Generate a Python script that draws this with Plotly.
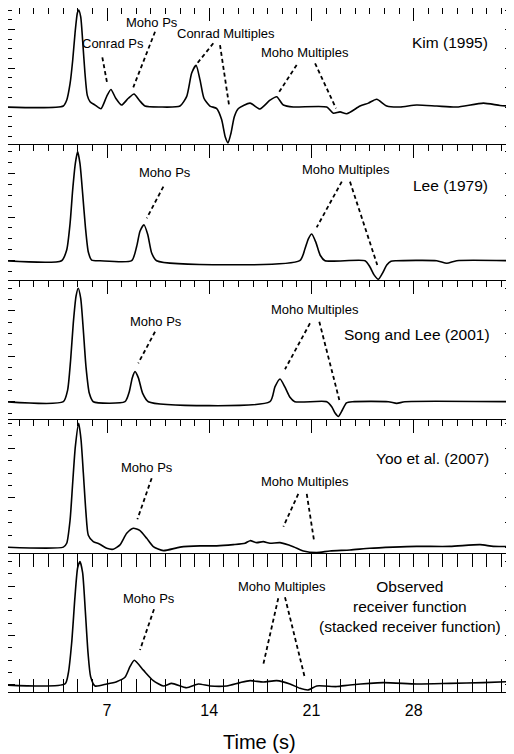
import plotly.graph_objects as go

# ---------------- data (time in s, normalized amplitude) ----------------
kim_1995 = [
    (0, 0), (4.01, 0.01), (4.24, 0.07), (4.47, 0.24), (4.65, 0.48), (4.81, 0.76),
    (4.97, 0.97), (5.06, 1.0), (5.2, 0.93), (5.33, 0.69), (5.49, 0.35), (5.65, 0.12),
    (5.84, 0.055), (6.18, 0.02), (6.59, -0.017), (6.98, 0.11), (7.27, 0.18), (7.6, 0.09),
    (8.0, 0.02), (8.46, 0.09), (8.85, 0.134), (9.21, 0.07), (9.6, 0.01), (10.63, 0),
    (12.0, 0.01), (12.46, 0.11), (12.8, 0.35), (13.1, 0.43), (13.37, 0.28), (13.64, 0.09),
    (14.05, 0.01), (14.5, -0.015), (14.85, -0.13), (15.1, -0.31), (15.29, -0.37),
    (15.49, -0.27), (15.72, -0.10), (16.0, -0.015), (16.8, 0.04), (17.47, -0.02),
    (18.16, 0.07), (18.62, 0.106), (19.08, 0.02), (19.76, 0), (22.05, 0), (22.5, -0.065),
    (22.96, -0.05), (23.42, -0.07), (24.33, 0.01), (24.9, 0.04), (25.47, 0.08),
    (26.16, 0.01), (27.07, 0), (28.2, 0.02), (29.58, 0.01), (30.95, 0), (32.78, 0.04),
    (33.92, 0.015), (34.6, 0.01),
]
lee_1979 = [
    (0, 0), (3.89, 0), (4.24, 0.098), (4.47, 0.34), (4.65, 0.65), (4.83, 0.89), (4.99, 1.0),
    (5.15, 0.89), (5.33, 0.62), (5.52, 0.31), (5.72, 0.08), (5.95, 0.006), (6.52, 0),
    (8.69, 0), (9.03, 0.13), (9.26, 0.27), (9.53, 0.33), (9.79, 0.24), (10.06, 0.07),
    (10.4, 0), (20.2, 0), (20.56, 0.11), (20.79, 0.2), (21.02, 0.245), (21.3, 0.17),
    (21.6, 0.05), (21.93, 0), (24.67, 0), (25.0, -0.055), (25.29, -0.13), (25.58, -0.17),
    (25.86, -0.116), (26.16, -0.04), (26.45, -0.005), (26.8, 0), (29.58, 0),
    (30.27, -0.024), (30.95, 0), (34.6, 0),
]
song_lee_2001 = [
    (0, 0), (4.01, 0), (4.3, 0.10), (4.51, 0.37), (4.69, 0.69), (4.88, 0.93), (5.03, 1.0),
    (5.2, 0.91), (5.38, 0.63), (5.56, 0.31), (5.79, 0.074), (6.06, 0), (8.23, 0),
    (8.53, 0.09), (8.73, 0.21), (8.92, 0.265), (9.15, 0.21), (9.44, 0.074), (9.83, 0),
    (18.16, 0), (18.5, 0.13), (18.85, 0.2), (19.18, 0.13), (19.53, 0.039), (19.86, 0),
    (22.05, 0), (22.39, -0.044), (22.62, -0.10), (22.84, -0.13), (23.12, -0.073),
    (23.4, -0.01), (23.8, 0), (26.27, 0), (26.84, -0.015), (27.4, 0), (34.6, 0),
]
yoo_2007 = [
    (0, 0.004), (4.01, 0.004), (4.24, 0.035), (4.47, 0.22), (4.65, 0.52), (4.83, 0.81),
    (5.06, 1.0), (5.22, 0.87), (5.38, 0.6), (5.56, 0.28), (5.72, 0.10), (6.06, 0.048),
    (6.47, 0.03), (6.98, -0.005), (7.43, -0.013), (7.89, 0.022), (8.35, 0.115),
    (8.8, 0.156), (9.26, 0.137), (9.72, 0.075), (10.17, 0.008), (10.86, -0.024),
    (12.0, 0.004), (13.37, 0.014), (14.51, 0.014), (15.65, 0.024), (16.45, 0.035),
    (16.8, 0.056), (17.25, 0.04), (17.7, 0.048), (18.16, 0.035), (18.85, 0.04),
    (19.76, 0.008), (20.45, -0.027), (21.36, -0.04), (22.27, -0.027), (23.64, -0.019),
    (25.0, -0.005), (26.61, 0.004), (28.21, 0.01), (30.49, 0.01), (32.55, 0.024),
    (33.46, 0.01), (34.6, 0.01),
]
observed = [
    (0, 0), (4.12, 0.008), (4.35, 0.095), (4.58, 0.34), (4.81, 0.72), (4.99, 0.95),
    (5.15, 1.0), (5.33, 0.91), (5.51, 0.61), (5.7, 0.26), (5.88, 0.067), (6.18, -0.008),
    (6.98, 0.008), (7.66, 0.027), (8.23, 0.062), (8.58, 0.15), (8.87, 0.2), (9.49, 0.12),
    (10.17, 0.035), (10.86, -0.008), (11.43, 0.013), (12.46, -0.022), (13.25, 0.008),
    (14.05, -0.008), (15.2, -0.008), (16.11, 0.019), (16.8, 0.035), (17.7, 0.024),
    (18.62, 0.035), (19.53, 0.008), (20.22, -0.027), (20.79, -0.04), (21.36, -0.008),
    (22.73, -0.013), (23.64, 0), (25.92, 0.019), (28.21, 0.008), (30.49, 0.013),
    (32.77, 0.019), (34.6, 0.027),
]

panel_series = [kim_1995, lee_1979, song_lee_2001, yoo_2007, observed]
panel_names = ["Kim (1995)", "Lee (1979)", "Song and Lee (2001)", "Yoo et al. (2007)",
               "Observed<br>receiver function<br>(stacked receiver function)"]
x_tick_vals = [7, 14, 21, 28]
x_tick_text = ["7", "14", "21", "28"]
x_title = "Time (s)"

# ---------------- layout settings ----------------
T_RANGE = [0.22, 34.6]
y_ranges = [[-0.392, 1.021], [-0.186, 1.061], [-0.161, 1.064], [-0.051, 1.027], [-0.057, 1.062]]
y_domains = [[0.7997, 1.0], [0.6009, 0.7997], [0.3977, 0.6009], [0.2018, 0.3977], [0.0, 0.2018]]

# name labels: (x, y, xanchor)
name_pos = [(33.23, 0.67, "right"), (33.23, 0.694, "right"), (33.37, 0.588, "right"),
            (33.3, 0.721, "right"), (27.75, 0.633, "center")]

# phase labels per panel: (text, x, y)
phase_labels = [
    [("Conrad Ps", 7.41, 0.66), ("Moho Ps", 10.08, 0.876), ("Conrad Multiples", 15.15, 0.763),
     ("Moho Multiples", 20.56, 0.557)],
    [("Moho Ps", 10.97, 0.805), ("Moho Multiples", 23.37, 0.832)],
    [("Moho Ps", 10.36, 0.705), ("Moho Multiples", 21.25, 0.809)],
    [("Moho Ps", 9.74, 0.643), ("Moho Multiples", 20.56, 0.531)],
    [("Moho Ps", 9.88, 0.703), ("Moho Multiples", 18.99, 0.797)],
]
# dashed pointer segments per panel: (x0, y0, x1, y1)
pointers = [
    [(6.68, 0.512, 7.02, 0.237), (10.29, 0.776, 8.80, 0.203), (14.28, 0.657, 13.18, 0.45),
     (14.74, 0.639, 15.38, -0.003), (19.99, 0.433, 18.73, 0.141), (21.25, 0.45, 22.68, -0.013)],
    [(10.86, 0.68, 9.72, 0.389), (23.08, 0.725, 21.36, 0.306), (23.64, 0.725, 25.51, -0.039)],
    [(10.29, 0.617, 9.14, 0.339), (20.9, 0.691, 19.19, 0.286), (21.54, 0.705, 22.91, 0.015)],
    [(10.06, 0.558, 9.08, 0.228), (20.1, 0.432, 19.08, 0.169), (20.68, 0.432, 21.18, 0.056)],
    [(10.22, 0.614, 9.26, 0.284), (18.73, 0.703, 17.71, 0.170), (19.19, 0.711, 20.56, 0.054)],
]

FONT = "Liberation Sans, Arial, Helvetica, sans-serif"
fig = go.Figure()
layout = dict(
    width=506, height=746,
    margin=dict(l=0, r=4, t=0, b=62, autoexpand=False),
    paper_bgcolor="white", plot_bgcolor="white",
    showlegend=False,
    font=dict(family=FONT, color="black"),
)
annotations = []
shapes = []

for i, series in enumerate(panel_series):
    n = i + 1
    xa = "x" if n == 1 else f"x{n}"
    ya = "y" if n == 1 else f"y{n}"
    ts = [p[0] for p in series]
    amps = [p[1] for p in series]
    fig.add_trace(go.Scatter(x=ts, y=amps, mode="lines", xaxis=xa, yaxis=ya,
                             line=dict(color="black", width=1.6, shape="spline", smoothing=0.6),
                             hoverinfo="skip"))
    # right-side dense tick axis (dummy trace)
    rn = n + 5
    fig.add_trace(go.Scatter(x=[None], y=[None], xaxis=xa, yaxis=f"y{rn}", showlegend=False,
                             hoverinfo="skip"))
    last = (n == 5)
    layout["xaxis" if n == 1 else f"xaxis{n}"] = dict(
        domain=[0, 1], anchor=ya, range=T_RANGE, automargin=False,
        side="bottom" if last else "top",
        tickmode="array", tickvals=x_tick_vals, ticktext=x_tick_text,
        ticks="inside", ticklen=13, tickwidth=1.3, tickcolor="black",
        minor=dict(dtick=1, tick0=0, ticks="inside", ticklen=6, tickwidth=1.1, tickcolor="black"),
        showline=True, linecolor="black", linewidth=1.3,
        mirror="allticks" if last else False,
        showgrid=False, zeroline=False,
        showticklabels=last, tickfont=dict(size=16, family=FONT),
        ticklabelstandoff=4,
        matches=None if n == 5 else "x5",
    )
    layout["yaxis" if n == 1 else f"yaxis{n}"] = dict(
        domain=y_domains[i], anchor=xa, range=y_ranges[i], automargin=False,
        tick0=0, dtick=0.4, ticks="inside", ticklen=7, tickwidth=1.1, tickcolor="black",
        minor=dict(dtick=0.1, ticks="inside", ticklen=4, tickwidth=1, tickcolor="black"),
        showline=True, linecolor="black", linewidth=1.5, mirror=True,
        showgrid=False, zeroline=False, showticklabels=False,
    )
    layout[f"yaxis{rn}"] = dict(
        overlaying=ya, anchor=xa, side="right", range=y_ranges[i], automargin=False,
        tick0=0, dtick=0.2, ticks="inside", ticklen=5, tickwidth=1, tickcolor="black",
        minor=dict(dtick=0.025, ticks="inside", ticklen=3, tickwidth=0.8, tickcolor="black"),
        showline=False, showgrid=False, zeroline=False, showticklabels=False,
    )
    nx, ny, nanch = name_pos[i]
    annotations.append(dict(text=panel_names[i], x=nx, y=ny, xref=xa, yref=ya, xanchor=nanch,
                            yanchor="middle", showarrow=False, align="center",
                            font=dict(size=15.5, family=FONT, color="black")))
    for text, lx, ly in phase_labels[i]:
        annotations.append(dict(text=text, x=lx, y=ly, xref=xa, yref=ya, xanchor="center",
                                yanchor="middle", showarrow=False,
                                font=dict(size=13, family=FONT, color="black")))
    for x0, y0, x1, y1 in pointers[i]:
        shapes.append(dict(type="line", x0=x0, y0=y0, x1=x1, y1=y1, xref=xa, yref=ya,
                           line=dict(color="black", width=1.8, dash="4px,3px")))

# x-axis title below the bottom panel
annotations.append(dict(text=x_title, x=0.5, y=-0.0731, xref="paper", yref="paper",
                        xanchor="center", yanchor="middle", showarrow=False,
                        font=dict(size=20, family=FONT, color="black")))

layout["annotations"] = annotations
layout["shapes"] = shapes
fig.update_layout(**layout)
fig.write_html("out.html")
